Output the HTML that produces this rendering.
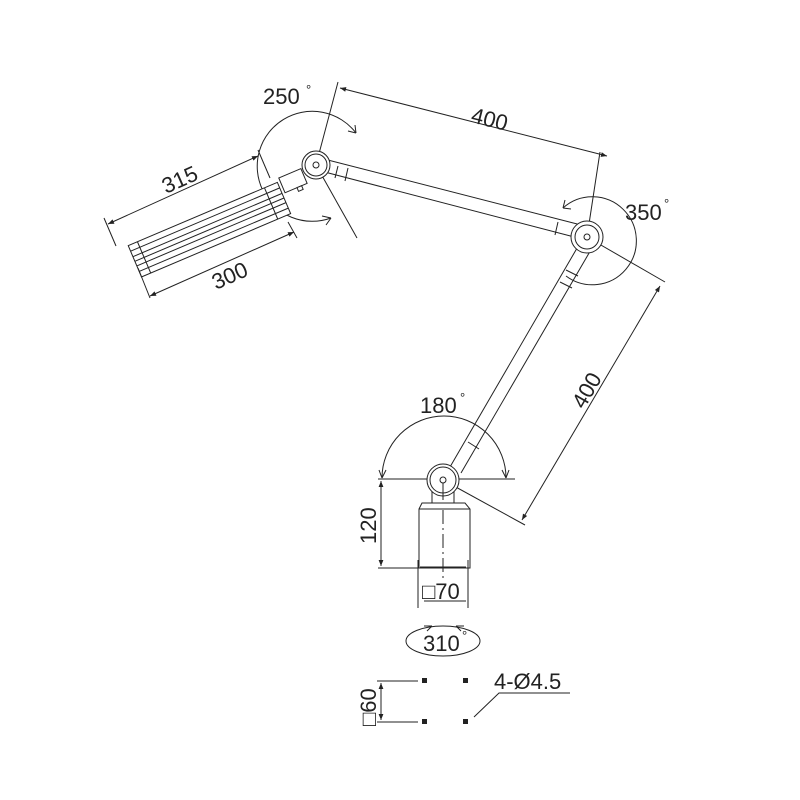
<!DOCTYPE html>
<html><head><style>
html,body{margin:0;padding:0;background:#fff;}
svg{display:block;}
text{font-family:"Liberation Sans",Arial,sans-serif;fill:#222;}
</style></head><body>
<svg width="800" height="800" viewBox="0 0 800 800" xmlns="http://www.w3.org/2000/svg">
<defs>
<marker id="ar" viewBox="0 0 10 10" refX="10" refY="5" markerWidth="9" markerHeight="6" orient="auto-start-reverse" markerUnits="userSpaceOnUse"><path d="M0,1 L10,5 L0,9 Z" fill="#222"/></marker>
</defs>
<g stroke="#222" stroke-width="1" fill="none">
<path d="M356,133 A55,55 0 1 0 331,218" />
<path d="M356,133 l-1,-8 M356,133 l-8,-2" />
<path d="M331,218 l-9,-2 M331,218 l-5,7" />
<line x1="338" y1="82" x2="316" y2="165"/>
<line x1="316" y1="165" x2="357" y2="238"/>
<line x1="320" y1="158" x2="585" y2="226"/>
<line x1="317" y1="170" x2="582" y2="239"/>
<line x1="338" y1="166" x2="335" y2="178"/>
<line x1="348" y1="168" x2="345" y2="181"/>
<line x1="558" y1="222" x2="555" y2="235"/>
<circle cx="316" cy="165" r="14" fill="#fff"/>
<circle cx="316" cy="165" r="11"/>
<circle cx="316" cy="165" r="3"/>
<g transform="translate(304,176) rotate(157)">
<rect x="0" y="-8" width="24" height="16" fill="#fff"/>
<rect x="6" y="-12" width="5" height="4" fill="#fff"/>
</g>
<g transform="translate(284,198) rotate(157)">
<rect x="0" y="-17" width="162" height="34" fill="#fff"/>
<line x1="0" y1="-11" x2="162" y2="-11"/>
<line x1="0" y1="-5" x2="162" y2="-5"/>
<line x1="0" y1="0" x2="162" y2="0"/>
<line x1="0" y1="5" x2="162" y2="5"/>
<line x1="0" y1="11" x2="162" y2="11"/>
<line x1="14" y1="-17" x2="14" y2="17"/>
<line x1="152" y1="-17" x2="152" y2="17"/>
</g>
<path d="M563,208 A44,44 0 1 1 566,276"/>
<path d="M563,208 l2,-8 M563,208 l8,1"/>
<line x1="600" y1="152" x2="587" y2="237"/>
<line x1="587" y1="237" x2="665" y2="282"/>
<line x1="580" y1="243" x2="450" y2="467"/>
<line x1="592" y1="248" x2="461" y2="473"/>
<line x1="566" y1="270" x2="578" y2="276"/>
<line x1="560" y1="282" x2="572" y2="288"/>
<line x1="468" y1="442" x2="479" y2="449"/>
<circle cx="587" cy="237" r="16" fill="#fff"/>
<circle cx="587" cy="237" r="12"/>
<circle cx="587" cy="237" r="3"/>
<path d="M382,478 A62,62 0 0 1 506,478"/>
<path d="M382,478 l-3,-8 M382,478 l4,-8"/>
<path d="M506,478 l-4,-8 M506,478 l3,-8"/>
<line x1="378" y1="479" x2="515" y2="479"/>
<line x1="443" y1="480" x2="525" y2="525"/>
<rect x="432" y="492" width="22" height="11" fill="#fff"/>
<circle cx="443" cy="480" r="16" fill="#fff"/>
<circle cx="443" cy="480" r="13"/>
<circle cx="443" cy="480" r="3"/>
<line x1="443" y1="483" x2="443" y2="500"/>
<path d="M422,503 L465,503 L470,509 L470,568 L419,568 L419,509 Z" fill="#fff"/>
<line x1="419" y1="509" x2="470" y2="509"/>
<line x1="443" y1="510" x2="443" y2="578" stroke-dasharray="14,4,2,4"/>
<line x1="378" y1="568" x2="420" y2="568"/>
<line x1="381" y1="481" x2="381" y2="566" marker-start="url(#ar)" marker-end="url(#ar)"/>
<line x1="418" y1="560" x2="418" y2="608"/>
<line x1="468" y1="560" x2="468" y2="608"/>
<line x1="420" y1="567" x2="466" y2="567"/>
<line x1="424" y1="601" x2="466" y2="601"/>
<line x1="340" y1="88" x2="607" y2="156" marker-start="url(#ar)" marker-end="url(#ar)"/>
<line x1="660" y1="286" x2="522" y2="520" marker-start="url(#ar)" marker-end="url(#ar)"/>
<line x1="108" y1="224" x2="258" y2="156" marker-start="url(#ar)" marker-end="url(#ar)"/>
<line x1="104" y1="218" x2="116" y2="246"/>
<line x1="258" y1="150" x2="270" y2="178"/>
<line x1="150" y1="296" x2="294" y2="232" marker-start="url(#ar)" marker-end="url(#ar)"/>
<line x1="138" y1="268" x2="150" y2="298"/>
<line x1="288" y1="222" x2="297" y2="238"/>
<ellipse cx="443" cy="641" rx="37" ry="15"/>
<path d="M432,626 l-8,0 M432,626 l-5,5"/>
<path d="M456,626 l8,0 M456,626 l5,5"/>
<line x1="377" y1="681" x2="418" y2="681"/>
<line x1="377" y1="722" x2="418" y2="722"/>
<line x1="381" y1="683" x2="381" y2="720" marker-start="url(#ar)" marker-end="url(#ar)"/>
<polyline points="474,717 499,693 570,693"/>
</g>
<g fill="#222">
<rect x="422" y="678" width="5" height="5"/><rect x="463" y="678" width="5" height="5"/>
<rect x="422" y="719" width="5" height="5"/><rect x="463" y="719" width="5" height="5"/>
</g>
<g font-size="22">
<text x="263" y="104">250</text><text x="306" y="94" font-size="13">°</text>
<text x="625" y="220">350</text><text x="664" y="208" font-size="13">°</text>
<text x="420" y="413">180</text><text x="460" y="402" font-size="13">°</text>
<text x="423" y="651">310</text><text x="462" y="640" font-size="13">°</text>
<text x="0" y="0" transform="translate(470,122) rotate(14)">400</text>
<text x="0" y="0" transform="translate(584,410) rotate(-60)">400</text>
<text x="0" y="0" transform="translate(166,194) rotate(-24)">315</text>
<text x="0" y="0" transform="translate(216,290) rotate(-24)">300</text>
<text x="0" y="0" transform="translate(376,544) rotate(-90)">120</text>
<text x="422" y="599">□70</text>
<text x="0" y="0" transform="translate(376,726) rotate(-90)">□60</text>
<text x="494" y="689">4-Ø4.5</text>
</g>
</svg>
</body></html>
